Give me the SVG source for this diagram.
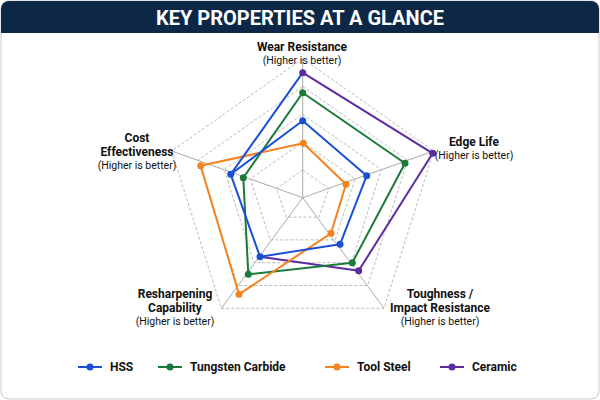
<svg xmlns="http://www.w3.org/2000/svg" width="600" height="400" viewBox="0 0 600 400">
<style>
text{font-family:"Roboto","Liberation Sans",sans-serif;fill:#111}
.b{font-weight:bold;font-size:12px}
.s{font-size:10.5px}
.ring{fill:none;stroke:#bbb;stroke-dasharray:3 2;stroke-width:1}
.sp{stroke:#aaa;stroke-width:1}
.ser{fill:none;stroke-width:2;stroke-linejoin:round}
.lg{font-weight:bold;font-size:12px}
</style>
<rect x="1" y="1" width="598" height="398" rx="8" fill="#fff" stroke="#ccc"/>
<g id="title"><path d="M1 33 V9 a8 8 0 0 1 8-8 H591 a8 8 0 0 1 8 8 V33 Z" fill="#0d2747"/>
<text x="300" y="25" text-anchor="middle" style="font-family:'Roboto','Liberation Sans',sans-serif;font-weight:bold;font-size:20px;fill:#fff">KEY PROPERTIES AT A GLANCE</text></g>
<g id="grid">
<polygon class="ring" points="302.7,58.7 433.7,151 384,308.3 221.4,308.3 171.7,151"/>
<polygon class="ring" points="302.7,86.5 407.5,160.3 367.7,285.5 237.7,285.5 197.9,160.3"/>
<polygon class="ring" points="302.7,114.3 381.3,169.6 351.5,262.7 253.9,262.7 224.1,169.6"/>
<polygon class="ring" points="302.7,142.1 355.1,178.9 335.2,239.9 270.2,239.9 250.3,178.9"/>
<polygon class="ring" points="302.7,169.9 328.9,188.4 319.0,217.1 286.4,217.1 276.5,188.4"/>
<g class="sp"><line x1="302.7" y1="197.7" x2="302.7" y2="58.7"/><line x1="302.7" y1="197.7" x2="433.7" y2="151"/><line x1="302.7" y1="197.7" x2="384" y2="308.3"/><line x1="302.7" y1="197.7" x2="221.4" y2="308.3"/><line x1="302.7" y1="197.7" x2="171.7" y2="151"/></g>
</g>
<g id="connectors">
<path class="ser" stroke="#5b2ca0" d="M302.7,72.7 L432.7,153.3 L358.7,270.7 L260,256.7"/>
<polygon class="ser" stroke="#1a7a3a" points="302.7,92.7 405,163.3 352.3,262.7 248.3,274.3 243.3,177.7"/>
<polygon class="ser" stroke="#f5821f" points="303.3,143.3 346,184.3 331,233.3 239,294.3 200.7,165.7"/>
<polygon class="ser" stroke="#1a4fd6" points="302.7,120.7 366.7,175.7 340,244.3 260,256.7 230.7,174.3"/>
<line class="ser" stroke="#1a4fd6" x1="230.7" y1="174.3" x2="302.7" y2="72.7"/>
</g>
<g id="points">
<g fill="#5b2ca0"><circle cx="302.7" cy="72.7" r="3.5"/><circle cx="432.7" cy="153.3" r="3.5"/><circle cx="358.7" cy="270.7" r="3.5"/></g>
<g fill="#1a7a3a"><circle cx="302.7" cy="92.7" r="3.5"/><circle cx="405" cy="163.3" r="3.5"/><circle cx="352.3" cy="262.7" r="3.5"/><circle cx="248.3" cy="274.3" r="3.5"/><circle cx="243.3" cy="177.7" r="3.5"/></g>
<g fill="#f5821f"><circle cx="303.3" cy="143.3" r="3.5"/><circle cx="346" cy="184.3" r="3.5"/><circle cx="331" cy="233.3" r="3.5"/><circle cx="239" cy="294.3" r="3.5"/><circle cx="200.7" cy="165.7" r="3.5"/></g>
<g fill="#1a4fd6"><circle cx="302.7" cy="120.7" r="3.5"/><circle cx="366.7" cy="175.7" r="3.5"/><circle cx="340" cy="244.3" r="3.5"/><circle cx="260" cy="256.7" r="3.5"/><circle cx="230.7" cy="174.3" r="3.5"/></g>
</g>
<g id="labels" text-anchor="middle">
<text class="b" x="302" y="51">Wear Resistance</text><text class="s" x="302" y="64">(Higher is better)</text>
<text class="b" x="474" y="146">Edge Life</text><text class="s" x="474" y="159">(Higher is better)</text>
<text class="b" x="137" y="142">Cost</text><text class="b" x="137" y="156">Effectiveness</text><text class="s" x="137" y="169">(Higher is better)</text>
<text class="b" x="175" y="298">Resharpening</text><text class="b" x="175" y="312">Capability</text><text class="s" x="175" y="325">(Higher is better)</text>
<text class="b" x="440" y="298">Toughness /</text><text class="b" x="440" y="312">Impact Resistance</text><text class="s" x="440" y="325">(Higher is better)</text>
</g>
<g id="legend">
<line x1="78" y1="367" x2="102" y2="367" stroke="#1a4fd6" stroke-width="2"/><circle cx="90" cy="367" r="3.5" fill="#1a4fd6"/><text class="lg" x="110" y="371">HSS</text>
<line x1="158" y1="367" x2="182" y2="367" stroke="#1a7a3a" stroke-width="2"/><circle cx="170" cy="367" r="3.5" fill="#1a7a3a"/><text class="lg" x="190" y="371">Tungsten Carbide</text>
<line x1="325" y1="367" x2="349" y2="367" stroke="#f5821f" stroke-width="2"/><circle cx="337" cy="367" r="3.5" fill="#f5821f"/><text class="lg" x="357" y="371">Tool Steel</text>
<line x1="440" y1="367" x2="464" y2="367" stroke="#5b2ca0" stroke-width="2"/><circle cx="452" cy="367" r="3.5" fill="#5b2ca0"/><text class="lg" x="472" y="371">Ceramic</text>
</g>
</svg>
